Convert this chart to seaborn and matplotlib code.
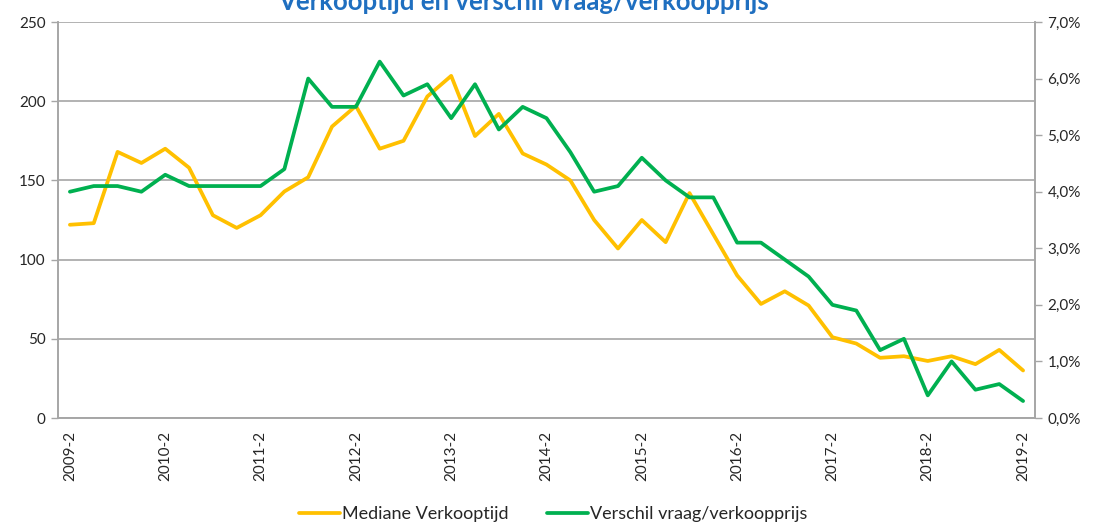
import numpy as np
import pandas as pd
import matplotlib
matplotlib.use("Agg")
import matplotlib.pyplot as plt
import seaborn as sns
from matplotlib.ticker import FuncFormatter

# Quarterly figures 2009-2 .. 2019-2
quarters = [f"{y}-{q}" for y in range(2009, 2020) for q in range(1, 5)][1:42]
verkooptijd = [122, 123, 168, 161, 170, 158, 128, 120, 128, 143, 152, 184, 197,
               170, 175, 203, 216, 178, 192, 167, 160, 150, 125, 107, 125, 111,
               142, 116, 90, 72, 80, 71, 51, 47, 38, 39, 36, 39, 34, 43, 30]
verschil = [4.0, 4.1, 4.1, 4.0, 4.3, 4.1, 4.1, 4.1, 4.1, 4.4, 6.0, 5.5, 5.5,
            6.3, 5.7, 5.9, 5.3, 5.9, 5.1, 5.5, 5.3, 4.7, 4.0, 4.1, 4.6, 4.2,
            3.9, 3.9, 3.1, 3.1, 2.8, 2.5, 2.0, 1.9, 1.2, 1.4, 0.4, 1.0, 0.5,
            0.6, 0.3]
tick_labels = quarters[::4]

df = pd.DataFrame({"kwartaal": quarters, "verkooptijd": verkooptijd,
                   "verschil": verschil})
df["pos"] = np.arange(len(df))

sns.set_style("white")
plt.rcParams["font.family"] = ["Lato", "DejaVu Sans"]

YELLOW = "#FFC000"
GREEN = "#00B050"
GRID = "#A6A6A6"
TXT = "#262626"

fig = plt.figure(figsize=(10.93, 5.25), dpi=100)
ax = fig.add_axes([58 / 1093, 1 - 418 / 525, 977 / 1093, 396 / 525])
ax2 = ax.twinx()

sns.lineplot(data=df, x="pos", y="verkooptijd", ax=ax, color=YELLOW,
             linewidth=2.7, label="Mediane Verkooptijd", legend=False)
sns.lineplot(data=df, x="pos", y="verschil", ax=ax2, color=GREEN,
             linewidth=2.7, label="Verschil vraag/verkoopprijs", legend=False)

ax.set_xlim(-0.5, len(df) - 0.5)
ax.set_ylim(0, 250)
ax2.set_ylim(0, 7)
ax.set_yticks(range(0, 251, 50))
ax2.set_yticks(range(0, 8))
ax2.yaxis.set_major_formatter(FuncFormatter(lambda v, p: f"{v:.1f}%".replace(".", ",")))

ax.set_xticks(np.arange(0, len(df), 4))
ax.set_xticklabels(tick_labels, rotation=90)
ax.set_xticks(np.arange(-0.5, len(df), 1), minor=True)
ax.tick_params(axis="x", which="major", length=0, pad=9, labelsize=11,
               labelcolor=TXT)
ax.tick_params(axis="x", which="minor", length=5, color=GRID, width=1)
ax.tick_params(axis="y", length=5, color=GRID, width=1, labelsize=11,
               labelcolor=TXT, pad=4)
ax2.tick_params(axis="y", length=5, color=GRID, width=1, labelsize=11,
                labelcolor=TXT, pad=4)

ax.yaxis.grid(True, color=GRID, linewidth=1.2)
ax.set_axisbelow(True)
ax.set_xlabel("")
ax.set_ylabel("")
ax2.set_ylabel("")

for a in (ax, ax2):
    a.spines["top"].set_visible(False)
    for s in ("left", "right", "bottom"):
        a.spines[s].set_color(GRID)
        a.spines[s].set_linewidth(1.2)

# title sits partly above the top edge, as in the source image
fig.text(524 / 1093, 1 - 2 / 525, "Verkooptijd en verschil vraag/verkoopprijs",
         ha="center", va="center", fontsize=18.5, fontweight="bold",
         color="#1F6FC0")

h1, l1 = ax.get_legend_handles_labels()
h2, l2 = ax2.get_legend_handles_labels()
fig.legend(h1 + h2, l1 + l2, loc="center", bbox_to_anchor=(553 / 1093, 1 - 514 / 525),
           ncol=2, frameon=False, fontsize=13, handlelength=2.3,
           handletextpad=0.1, columnspacing=2.1, labelcolor=TXT)

fig.savefig("out.png", dpi=100)
